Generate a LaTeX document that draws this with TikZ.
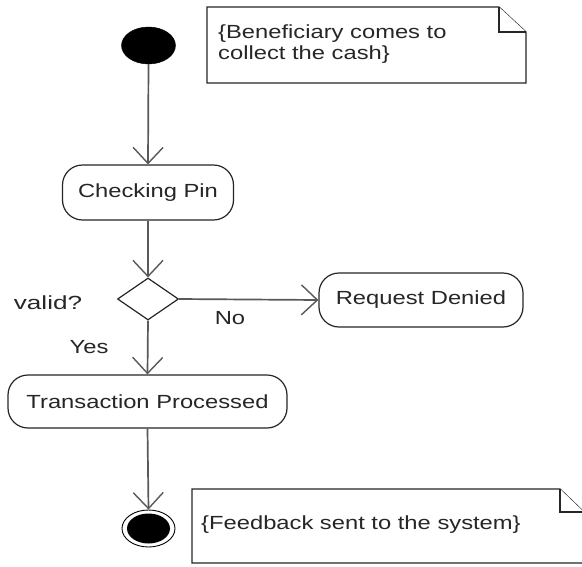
\documentclass[tikz,border=0pt]{standalone}
\usepackage{fontspec}
\setmainfont{Liberation Sans}[FakeStretch=1.25]
\usetikzlibrary{shapes.geometric,arrows.meta}
\begin{document}
\begin{tikzpicture}[x=1pt,y=-1pt,
  every node/.style={font=\fontsize{19}{21.5}\selectfont, text=black!85},
  activity/.style={draw=black!85, line width=1.2pt, rounded corners=20pt, inner sep=0pt, fill=white},
  flow/.style={draw=black!65, line width=1.7pt, -{Straight Barb[length=16pt,width=30pt,line width=1.4pt]}},
  notebox/.style={draw=black!85, line width=1.2pt, fill=white},
  lbl/.style={inner sep=0pt}
]
\useasboundingbox (0,0) rectangle (582,566);
\fill[white] (0,0) rectangle (582,566);

% notes
\draw[notebox] (207,7) -- (499,7) -- (526,32) -- (526,83) -- (207,83) -- cycle;
\draw[notebox] (499,7) -- (499,32) -- (526,32);
\node[lbl, anchor=west, align=left] (n1) at (218,44) {\{Beneficiary comes to\\collect the cash\}};

\draw[notebox] (192,489) -- (560,489) -- (584,512) -- (584,563) -- (192,563) -- cycle;
\draw[notebox] (560,489) -- (560,512) -- (584,512);
\node[lbl, anchor=west] (n2) at (201,525) {\{Feedback sent to the system\}};

% nodes
\node[ellipse, fill=black, draw=black, minimum width=54pt, minimum height=37pt, inner sep=0pt] (start) at (148.5,45.5) {};
\node[activity, minimum width=171pt, minimum height=55pt] (check) at (148,192.5) {Checking Pin};
\node[diamond, draw=black!85, line width=1.2pt, fill=white, minimum width=61pt, minimum height=42pt, inner sep=0pt] (dec) at (148,299) {};
\node[activity, minimum width=204pt, minimum height=54pt] (denied) at (421,300) {Request Denied};
\node[activity, minimum width=279pt, minimum height=53pt] (trans) at (147.5,401.5) {Transaction Processed};
\node[ellipse, draw=black, line width=0.9pt, minimum width=53pt, minimum height=37pt, inner sep=0pt] (end) at (148.5,528.5) {};
\node[ellipse, fill=black, minimum width=43pt, minimum height=30pt, inner sep=0pt] (endin) at (148.5,528.5) {};

% labels
\node[lbl] (valid) at (48,303) {\scalebox{1.1}[1]{valid?}};
\node[lbl] (no) at (230,318) {No};
\node[lbl] (yes) at (89,347) {Yes};

% connectors
\draw[flow] (start.south) -- (check.north);
\draw[flow] (check.south) -- (dec.north);
\draw[flow] (dec.east) -- (denied.west);
\draw[flow] (dec.south) -- (trans.north);
\draw[flow] (trans.south) -- (end.north);
\end{tikzpicture}
\end{document}
